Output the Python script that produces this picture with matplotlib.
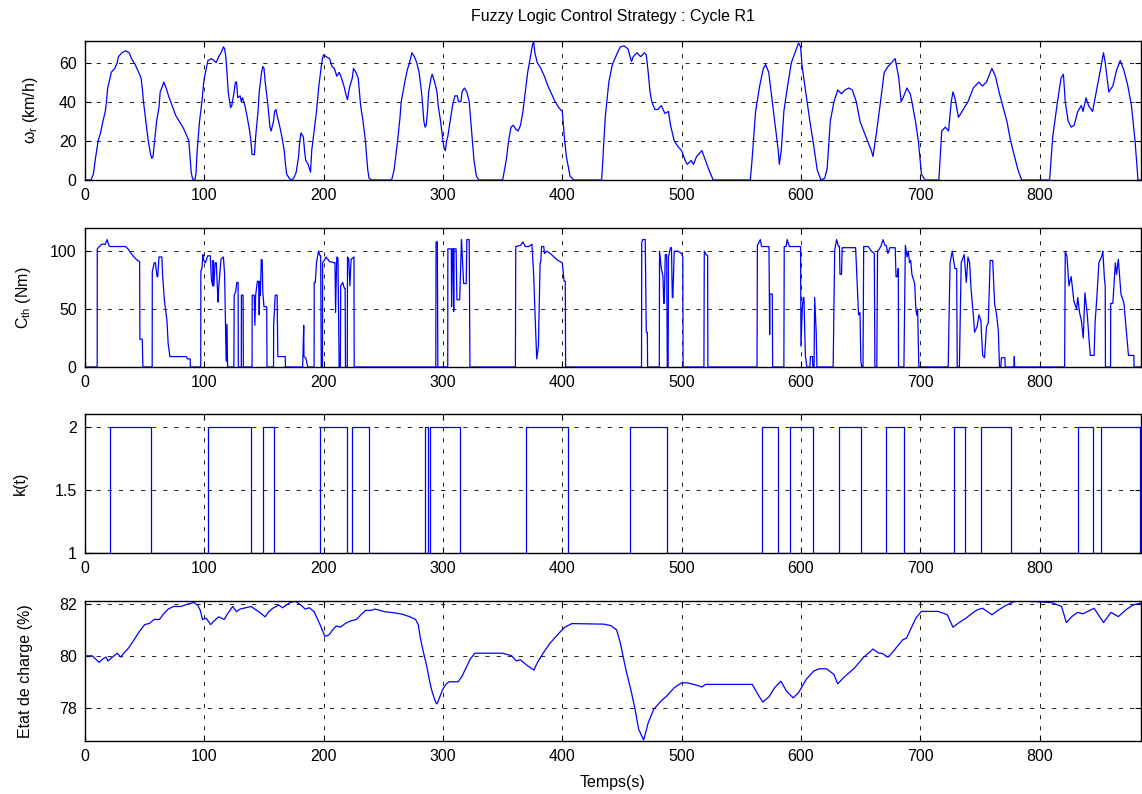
import matplotlib
matplotlib.use('Agg')
import matplotlib.pyplot as plt

plt.rcParams['font.family'] = ['Liberation Sans', 'DejaVu Sans']
plt.rcParams['mathtext.fontset'] = 'custom'
plt.rcParams['mathtext.rm'] = 'Liberation Sans'
plt.rcParams['lines.scale_dashes'] = False

# vitesse du vehicule (km/h)
speed_t = [0, 5, 7, 9, 11, 13, 15, 17, 18, 19, 21, 22, 25, 27, 28, 31, 34, 37, 39, 42, 45, 47, 48, 49, 51, 53, 55, 56, 57, 58,
           59, 60, 62, 63, 65, 66, 68, 70, 73, 76, 79, 82, 85, 87, 88, 89, 90, 91, 92, 93, 94, 96, 98, 99, 100, 102, 103, 106,
           108, 110, 112, 114, 116, 117, 118, 119, 120, 122, 123, 125, 126, 127, 128, 130, 131, 132, 134, 136, 138, 139, 140,
           142, 143, 145, 146, 148, 149, 150, 151, 153, 155, 156, 158, 159, 160, 161, 163, 165, 167, 168, 169, 171, 173, 175,
           177, 179, 180, 181, 183, 184, 185, 187, 189, 190, 192, 194, 196, 198, 199, 200, 202, 205, 207, 209, 211, 213, 215,
           217, 219, 220, 221, 222, 224, 225, 227, 229, 230, 231, 233, 235, 236, 237, 238, 240,
           257, 259, 261, 262, 264, 265, 268, 270, 272, 274, 276, 278, 280, 282, 283, 284, 285, 286, 287, 288, 290, 291, 293,
           295, 296, 298, 300, 301, 302, 303, 304, 306, 308, 310, 312, 313, 315, 316, 318, 320, 322, 324, 326, 328, 330,
           350, 353, 355, 357, 359, 361, 363, 365, 367, 369, 371, 373, 375, 376, 377, 379, 382, 385, 388, 391, 394, 397, 400,
           402, 403.4, 406.5, 409.7,
           433, 436, 439, 442, 445.5, 448.6, 451.7, 455, 458, 459.5, 462.6, 465.7, 468.8, 470.4, 472, 473.5, 475, 477.6, 480,
           483, 486, 489, 490.7, 493.8, 497, 500, 503, 504.7, 508, 510, 512.5, 517, 520, 523, 526.5,
           557.6, 559, 562, 565.4, 568.5, 570.4, 573, 576, 579, 581, 581.9, 583.5, 585.7, 588.8, 592, 595, 598, 599.7, 601,
           604, 607.5, 610.6, 613.7, 616.8, 620, 622, 624.6, 627.7, 630.8, 634, 637, 640, 643, 646.4, 649.5, 652.6, 655.8,
           659, 660.4, 663.5, 666.7, 669.8, 673, 676, 679, 682, 684, 685.6, 688.8, 691.6, 693, 696, 698.4, 701, 704,
           715.6, 718, 721, 723.7, 726, 727.4, 729, 732, 735, 740, 744.5, 749, 752, 755.5, 760, 763, 766, 769.5, 772.6,
           775.7, 779, 782, 785,
           808.4, 811, 815, 818, 820, 821.5, 824, 826.5, 829, 832, 835, 836.4, 839, 841, 844.4, 847.5, 850.6, 853.6, 855,
           858, 861.4, 864.5, 867.6, 870.7, 874, 877, 880, 882.5, 885]
speed_v = [0, 0, 3, 12, 20, 24, 30, 35, 40, 47, 52, 55, 57, 60, 63, 65, 66, 65, 62, 59, 55, 52, 47, 40, 30, 20, 13, 11, 12, 18,
           24, 30, 37, 45, 48, 50, 47, 43, 38, 33, 30, 27, 23, 20, 12, 4, 1, 0, 0, 3, 15, 30, 40, 47, 52, 58, 61, 62,
           61, 60, 63, 65, 68, 67, 63, 55, 45, 37, 38, 45, 50, 50, 42, 43, 40, 42, 38, 32, 25, 20, 13,
           13, 22, 35, 45, 55, 58, 57, 50, 40, 27, 25, 30, 35, 36, 33, 28, 22, 15, 8, 3, 1, 0, 1,
           4, 12, 20, 24, 22, 15, 10, 8, 4, 15, 25, 35, 48, 58, 62, 64, 63, 62, 58, 57, 53, 55, 52,
           48, 43, 41, 45, 48, 52, 57, 55, 52, 45, 38, 30, 20, 12, 5, 1, 0,
           0, 5, 15, 20, 32, 40, 50, 56, 60, 65, 63, 60, 55, 45, 38, 30, 27, 28, 35, 45, 52, 54, 50,
           45, 38, 30, 20, 16, 15, 20, 22, 30, 38, 43, 43, 40, 40, 45, 47, 45, 40, 25, 10, 2, 0,
           0, 10, 20, 27, 28, 26, 25, 28, 35, 45, 55, 62, 69, 70.8, 65, 60, 57, 53, 48, 44, 40, 37, 35,
           20, 12, 2, 0,
           0, 32, 50, 59, 64, 68, 68.5, 67, 60.5, 63, 65, 63, 65, 64, 55, 45, 40, 36, 36,
           38, 34, 35, 28, 20, 17, 15, 10, 8, 10, 8, 12, 15, 10, 5, 0,
           0, 10, 35, 48, 57, 59, 55, 40, 25, 15, 8, 15, 35, 48, 60, 65, 70, 68, 58,
           45, 30, 18, 5, 0, 1, 6, 30, 40, 46, 44, 46, 47, 46, 40, 30, 25, 20,
           15, 12, 25, 40, 55, 58, 60, 62, 52, 40, 42, 47, 44, 40, 30, 20, 3, 0,
           0, 25, 27, 25, 40, 45, 42, 32, 35, 40, 47, 50, 48, 50, 57, 53, 45, 37, 30,
           20, 12, 5, 0,
           0, 22, 40, 52, 54, 40, 30, 27, 28, 35, 38, 35, 42, 38, 35, 45, 55, 65, 60,
           45, 48, 56, 61, 56, 48, 38, 20, 0, 0]

# couple du moteur thermique (Nm)
torque_t = [0, 10.2, 10.3, 12, 14, 17, 18.6, 20, 21, 34, 36, 38.7, 41, 44, 45.8, 46, 48, 48.5,
            56.3, 56.4, 58, 59, 60.4, 61, 62, 64.4, 65, 66.5, 68.7, 69.7, 71.2, 85, 86, 88.2, 88.3,
            97, 97.1, 98, 98.8, 99.5, 101, 102.8, 105, 106, 107, 107.4, 108, 109, 110, 111.5, 112, 114, 116, 117, 118.3,
            119, 119.5,
            124.8, 125, 126.3, 127.2, 128.3, 128.5,
            131, 131.1, 132.5, 132.7,
            140, 140.1, 141.8, 142.4, 143, 144.5, 145.5, 146, 146.5, 147, 147.7, 148.5, 149, 150, 152.3, 152.5,
            158, 158.1, 159.4, 161, 161.6, 167.8, 168,
            182.4, 183.3, 183.5, 185, 186.7,
            192, 192.1, 193, 194, 195.7, 197, 197.5, 198,
            199, 199.1, 201, 202, 205, 209, 209.5, 210, 211, 212, 213,
            214, 214.3, 216, 217.3, 218, 218.3,
            219.8, 220, 221, 222, 223, 225.4, 225.6,
            294, 294.2, 295.3, 295.7,
            304, 304.1, 307, 307.2, 308, 308.7, 309, 309.3, 311, 311.7, 314, 315.5, 316, 317.3, 319.5, 320, 322, 322.6,
            360.7, 361, 365, 367, 369, 372, 374.6, 376, 377.7, 378.6, 380, 381.4, 382, 382.6, 384.5, 385, 387, 390,
            393, 396.3, 400, 401.5, 402.5, 402.8,
            466.4, 466.6, 467.3, 469.5, 470.4, 471.3, 471.5,
            481.3, 481.5, 483, 484.4, 485, 485.5, 486.3, 487.5, 488, 488.7, 489, 490.7, 491.5, 492.2, 492.7, 493.8,
            497, 500, 501, 501.2,
            518.7, 519, 520.5, 521.8, 522,
            563.2, 563.5, 564.5, 566, 567, 573.2, 573.8, 574, 576, 576.3,
            585.7, 586, 587.5, 588.5, 590.3, 599.7, 600, 601.2, 602, 602.5, 603.7, 605,
            607.5, 608, 609.7, 610,
            611, 611.5, 612.8, 613.4,
            627, 628.3, 629.9, 631.5, 632.3, 632.7, 634, 634.6, 645.8, 646.4, 648.3, 649.5, 650.2, 651,
            652, 652.6, 656.4, 659, 661.5, 662,
            663.6, 664.2, 665.8, 667.3, 668.8, 670.4, 671.5, 672.9, 674.5, 679, 679.7, 680.7, 681.6, 681.8,
            686.3, 687.5, 689, 690, 691, 692, 693, 695.3, 696.3, 697, 697.8, 698.8,
            723.4, 725, 726.8, 729, 730.5, 731,
            732.8, 734.3, 736.8, 738.6, 740, 741.4, 742.4, 743.6, 744.5, 745.5, 747.7, 749.2, 750.8, 752.3, 753.9,
            755.5, 757, 758.6, 760.7, 762.3, 764, 765.4, 766.4,
            767.5, 768, 771, 771.2,
            778.5, 778.8, 779.1,
            821, 821.5, 823, 824.6, 826.5, 828.7, 831, 832, 833.5, 835, 836.6, 838, 840, 841.7, 842.6, 845.7, 846.5,
            848, 849.7, 852.2, 853, 854.3, 855, 855.2,
            859.5, 859.6, 861.4, 863.5, 864.5, 866, 868.2, 870.7, 872.2, 873.8, 874.5, 879, 879.2, 885]
torque_v = [0, 0, 102, 104, 106, 106, 110, 105, 104, 104, 102, 98, 95, 92, 91, 24, 24, 0,
            0, 82, 90, 90, 78, 78, 95, 95, 80, 58, 40, 20, 9, 9, 7, 7, 0,
            0, 83, 85, 97, 92, 90, 96, 96, 75, 70, 92, 70, 90, 90, 56, 68, 93, 95, 80, 5,
            37, 0,
            0, 62, 65, 73, 73, 0,
            0, 62, 62, 0,
            0, 62, 62, 36, 62, 74, 74, 45, 74, 62, 93, 92, 65, 52, 52, 0,
            0, 36, 62, 62, 9, 9, 0,
            0, 36, 9, 8, 0,
            0, 73, 73, 90, 100, 96, 96, 0,
            0, 90, 93, 95, 91, 90, 90, 47, 95, 94, 0,
            0, 70, 73, 68, 68, 0,
            0, 95, 93, 70, 93, 95, 0,
            0, 108, 108, 0,
            0, 102, 102, 52, 102, 102, 48, 102, 102, 58, 58, 110, 100, 72, 72, 110, 110, 0,
            0, 104, 105, 108, 104, 104, 106, 80, 30, 7, 18, 90, 91, 104, 104, 98, 100, 98,
            95, 92, 90, 74, 74, 0,
            0, 108, 110, 110, 30, 30, 0,
            0, 100, 85, 78, 55, 55, 97, 97, 0, 0, 95, 103, 103, 60, 60, 100,
            100, 98, 95, 0,
            0, 100, 97, 96, 0,
            0, 105, 107, 110, 104, 104, 28, 63, 63, 0,
            0, 104, 104, 110, 104, 104, 18, 52, 60, 60, 10, 0,
            0, 9, 9, 0,
            0, 60, 30, 0,
            0, 101, 110, 104, 104, 80, 80, 103, 103, 90, 45, 47, 5, 0,
            0, 104, 104, 100, 98, 0,
            0, 100, 102, 105, 110, 105, 105, 98, 103, 103, 78, 78, 85, 0,
            0, 105, 95, 100, 90, 92, 80, 72, 50, 45, 50, 0,
            0, 90, 100, 85, 85, 0,
            0, 90, 97, 73, 95, 90, 70, 55, 45, 30, 35, 45, 40, 10, 8,
            35, 38, 92, 92, 55, 45, 32, 0,
            0, 8, 8, 0,
            0, 9, 0,
            0, 100, 95, 70, 78, 57, 50, 60, 47, 40, 25, 64, 45, 20, 10, 10, 38,
            60, 90, 96, 100, 77, 70, 0,
            0, 55, 55, 90, 80, 93, 63, 55, 37, 18, 10, 10, 0, 0]

# rapport k(t), constant par morceaux
k_t = [0, 21, 55, 103.4, 139.3, 149.5, 158, 197.2, 219.2, 224, 238.4, 284.8, 287.3, 288.8, 314.6, 369.7, 405,
       456.4, 487.5, 567, 580.4, 591, 610.3, 631.5, 650.5, 671.3, 686.3, 728, 737.4, 750.8, 776.3, 831.8,
       844.9, 851.2, 884.2, 885]
k_v = [1, 2, 1, 2, 1, 2, 1, 2, 1, 2, 1, 2, 1, 2, 1, 2, 1,
       2, 1, 2, 1, 2, 1, 2, 1, 2, 1, 2, 1, 2, 1, 2,
       1, 2, 1, 1]

# etat de charge de la batterie (%)
soc_t = [0, 6, 11.8, 15.5, 17.6, 19.2, 23, 27, 30, 32.5, 36.5, 40.9, 45, 50, 54, 58, 62.5, 65.6, 69.7, 74.3, 80.5,
         86.7, 91.3, 94.4, 96.6, 98.5, 101.5, 105.3, 108.4, 112, 116.7, 119.2, 123.8, 127, 130, 134.7, 139.3, 142.4,
         147, 151, 154, 158, 162.5, 165.6, 171.8, 176.5, 181, 184.5, 188, 192, 195, 197, 198.8, 201, 204.3, 206.8,
         210.5, 214, 218.3, 223, 227.6, 231.6, 235.3, 240, 243, 250.8, 260, 266, 272.4, 277, 279.3, 281, 283.3,
         286.4, 288.9, 291, 294, 295, 297.2, 299.7, 302.5, 305, 309, 312.7, 315.8, 318.9, 322.6, 326.6, 331.3, 350,
         357.6, 361.6, 364.7, 370, 376.2, 379.3, 383.9, 390, 397.8, 402, 408, 434.6, 440.8, 445.5, 448.6, 453.3,
         458, 461, 464, 468.2, 472, 476.6, 482.8, 487.5, 493.8, 500, 504.7, 512.5, 517, 520, 559.2, 564, 568,
         573.2, 577.9, 583.2, 587.9, 593.5, 598, 604.4, 610.6, 615.3, 621.5, 627.7, 630.8, 635.5, 644.9, 652,
         660.4, 665, 668.2, 672.9, 676, 680.7, 685.4, 688.5, 693, 696.3, 701, 715, 722.7, 727.4, 732, 738.3,
         744.5, 747.7, 752.3, 760.1, 764.8, 771, 778.8, 789.7, 810, 818.4, 822.4, 827, 831.8, 836.4, 845.7,
         853.6, 859.8, 866, 872.3, 878.5, 885]
soc_v = [80.0, 80.0, 79.75, 79.9, 79.95, 79.8, 79.95, 80.1, 79.95, 80.1, 80.3, 80.6, 80.9, 81.2, 81.25, 81.4, 81.4,
         81.6, 81.8, 81.9, 81.9, 82.0, 82.05, 81.95, 81.75, 81.4, 81.45, 81.2, 81.35, 81.5, 81.4, 81.6, 81.9, 81.7,
         81.8, 81.85, 81.9, 81.8, 81.65, 81.5, 81.7, 81.85, 81.95, 81.85, 82.05, 82.1, 81.95, 81.8, 81.85, 81.7,
         81.4, 81.2, 81.0, 80.75, 80.8, 80.95, 81.15, 81.1, 81.25, 81.35, 81.4, 81.6, 81.75, 81.75, 81.8, 81.7,
         81.65, 81.6, 81.5, 81.4, 81.2, 80.7, 80.2, 79.6, 79.0, 78.6, 78.2, 78.15, 78.4, 78.7, 78.9, 79.0, 79.0,
         79.0, 79.2, 79.5, 79.85, 80.1, 80.1, 80.1, 80.0, 79.8, 79.85, 79.65, 79.45, 79.75, 80.1, 80.5, 80.9, 81.1,
         81.24, 81.22, 81.16, 81.0, 80.5, 79.47, 78.58, 77.94, 77.17, 76.76, 77.42, 77.94, 78.26, 78.45, 78.77,
         78.96, 78.96, 78.87, 78.8, 78.9, 78.9, 78.51, 78.22, 78.42, 78.77, 79.02, 78.64, 78.38, 78.58, 79.09,
         79.41, 79.5, 79.5, 79.28, 78.92, 79.15, 79.53, 79.92, 80.26, 80.11, 80.09, 79.95, 80.09, 80.36, 80.62,
         80.68, 81.13, 81.45, 81.71, 81.71, 81.58, 81.1, 81.26, 81.45, 81.67, 81.77, 81.83, 81.58, 81.74, 81.92,
         82.09, 82.1, 82.05, 81.9, 81.28, 81.51, 81.67, 81.62, 81.83, 81.28, 81.67, 81.51, 81.77, 81.96, 82.03]

xticks = [0, 100, 200, 300, 400, 500, 600, 700, 800]

W, H = 1142, 794
fig = plt.figure(figsize=(W / 100, H / 100), dpi=100)

# positions des axes en pixels (haut, bas)
rows = [(41, 180), (228, 367), (414, 553), (601, 741)]
left, right = 85, 1141
axes = []
for top, bot in rows:
    ax = fig.add_axes([left / W, 1 - bot / H, (right - left) / W, (bot - top) / H])
    axes.append(ax)

line_kw = dict(color='#0000ff', lw=0.9)
axes[0].plot(speed_t, speed_v, **line_kw)
axes[1].plot(torque_t, torque_v, **line_kw)
axes[2].plot(k_t, k_v, drawstyle='steps-post', **line_kw)
axes[3].plot(soc_t, soc_v, **line_kw)

axes[0].set_ylim(0, 71)
axes[0].set_yticks([0, 20, 40, 60])
axes[1].set_ylim(0, 120)
axes[1].set_yticks([0, 50, 100])
axes[2].set_ylim(1, 2.1)
axes[2].set_yticks([1, 1.5, 2])
axes[2].set_yticklabels(['1', '1.5', '2'])
axes[3].set_ylim(76.72, 82.11)
axes[3].set_yticks([78, 80, 82])

fs = 11.5
for ax in axes:
    ax.set_xlim(0, 885)
    ax.set_xticks(xticks)
    ax.grid(True, color='#222222', lw=0.7, linestyle=(0, (3, 5)))
    ax.tick_params(direction='in', top=True, right=True, length=4, width=0.8, labelsize=fs, pad=6)
    for s in ax.spines.values():
        s.set_linewidth(1.0)

# ylabels: bord droit du texte tourne, en pixels depuis la gauche
ylabels = ['ω$_{\\mathrm{r}}$ (km/h)', 'C$_{\\mathrm{th}}$ (Nm)', 'k(t)', 'Etat de charge (%)']
label_right = [40, 33, 28, 33]
for ax, lab, xr in zip(axes, ylabels, label_right):
    ax.set_ylabel(lab, fontsize=fs)
    ax.yaxis.set_label_coords((xr - left) / (right - left), 0.5)

axes[3].set_xlabel('Temps(s)', fontsize=fs, labelpad=8)
fig.text((left + right) / 2 / W, 1 - 17 / H, 'Fuzzy Logic Control Strategy : Cycle R1',
         fontsize=fs, ha='center', va='center')

fig.savefig('out.png', dpi=100)
